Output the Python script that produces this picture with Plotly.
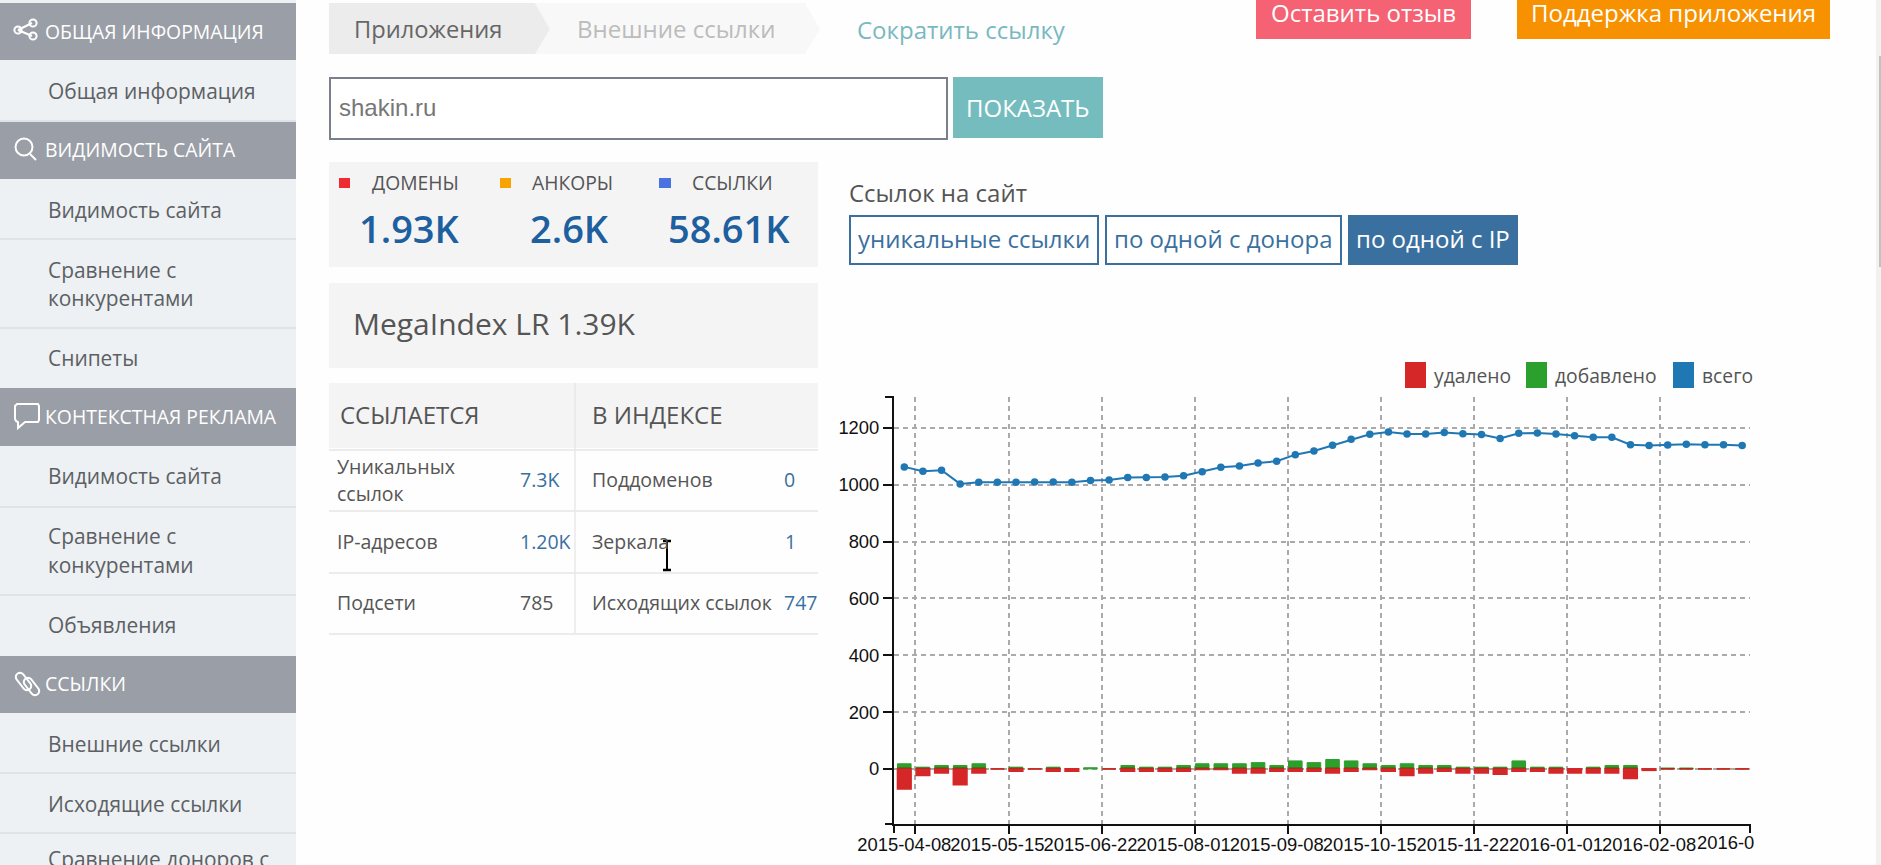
import math
import plotly.graph_objects as go

# ---------- chart data ----------
total = [1063, 1048, 1051, 1003, 1009, 1009, 1009, 1010, 1010, 1009, 1015, 1017, 1026, 1026, 1027, 1032,
         1046, 1062, 1066, 1077, 1083, 1106, 1119, 1139, 1160, 1178, 1186, 1179, 1179, 1184, 1180, 1177,
         1163, 1181, 1182, 1179, 1173, 1167, 1167, 1141, 1138, 1140, 1143, 1141, 1141, 1138]
added = [18, 6, 12, 12, 18, 0, 6, 0, 6, 0, 4, 0, 12, 6, 6, 12,
         18, 18, 18, 22, 12, 28, 22, 33, 28, 18, 12, 18, 12, 12, 6, 6,
         6, 28, 6, 6, 0, 6, 12, 12, 0, 3, 3, 0, 0, 0]
removed = [-71, -23, -14, -56, -14, 0, -8, 0, -8, -8, None, 0, -8, -8, -8, -8,
           -2, -2, -14, -14, -8, -8, -8, -14, -8, -2, -8, -23, -14, -8, -14, -14,
           -19, -8, -8, -14, -14, -14, -14, -34, -5, 0, 0, 0, 0, 0]
overlap = [6, 5, 6, 6, 6, 0, 5, 0, 5, 0, 0, 0, 6, 5, 5, 6,
           6, 6, 6, 6, 6, 6, 6, 6, 6, 6, 6, 6, 6, 6, 5, 5,
           5, 6, 5, 5, 0, 5, 6, 6, 0, 3, 3, 0, 0, 0]
x_labels = ["2015-04-08", "2015-05-15", "2015-06-22", "2015-08-01", "2015-09-08",
            "2015-10-15", "2015-11-22", "2016-01-01", "2016-02-08", "2016-0"]
y_ticks = [0, 200, 400, 600, 800, 1000, 1200]

series_names = ["удалено", "добавлено", "всего"]
series_colors = ["#d62728", "#2ca02c", "#1f77b4"]

# ---------- page texts ----------
sidebar_headers = ["ОБЩАЯ ИНФОРМАЦИЯ", "ВИДИМОСТЬ САЙТА", "КОНТЕКСТНАЯ РЕКЛАМА", "ССЫЛКИ"]

# ---------- geometry ----------
W, H = 1881, 865
L, R, T, B = 894, 1750, 397, 824
def X(p): return (p - L) / (R - L)
def Y(p): return (B - p) / (B - T)

shapes, anns = [], []
SANS = "Open Sans"

def rect(x0, y0, x1, y1, fill=None, line=None, lw=0, layer="below"):
    shapes.append(dict(type="rect", xref="paper", yref="paper", x0=X(x0), x1=X(x1), y0=Y(y0), y1=Y(y1),
                       fillcolor=fill, line=dict(color=line, width=lw), layer=layer))

def seg(x0, y0, x1, y1, color, lw=1, layer="below"):
    shapes.append(dict(type="line", xref="paper", yref="paper", x0=X(x0), x1=X(x1), y0=Y(y0), y1=Y(y1),
                       line=dict(color=color, width=lw), layer=layer))

def circ(cx, cy, r, color, lw=2):
    shapes.append(dict(type="circle", xref="paper", yref="paper", x0=X(cx - r), x1=X(cx + r), y0=Y(cy - r), y1=Y(cy + r),
                       line=dict(color=color, width=lw), layer="above"))

def path(pts, fill=None, line=None, lw=0, closed=True, layer="below"):
    d = "M " + " L ".join(f"{X(a):.5f},{Y(b):.5f}" for a, b in pts) + (" Z" if closed else "")
    shapes.append(dict(type="path", xref="paper", yref="paper", path=d, fillcolor=fill,
                       line=dict(color=line, width=lw), layer=layer))

def capsule(x0, y0, x1, y1, r, color):
    a = math.atan2(y1 - y0, x1 - x0)
    pts = []
    for k in range(9):
        t = a + math.pi / 2 + k * math.pi / 8
        pts.append((x0 + r * math.cos(t), y0 + r * math.sin(t)))
    for k in range(9):
        t = a - math.pi / 2 + k * math.pi / 8
        pts.append((x1 + r * math.cos(t), y1 + r * math.sin(t)))
    path(pts, None, color, 2, True, "above")

def text(s, x, y, size, color, anchor="left", family=SANS, weight=None):
    f = dict(family=family, size=size, color=color)
    if weight:
        f["weight"] = weight
    anns.append(dict(text=s, xref="paper", yref="paper", x=X(x), y=Y(y), xanchor=anchor, yanchor="middle",
                     showarrow=False, font=f, borderpad=0, borderwidth=0))

# sidebar
SIDE = "#edf1f3"; HEAD = "#9a9ea6"; SEP = "#dfe3e5"; ITEM = "#5c6064"
rect(0, 0, 296, H, SIDE)
for (y0, y1), label, cy in zip([(3, 60), (122, 179), (388, 446), (656, 713)], sidebar_headers, [31, 149, 416, 683]):
    rect(0, y0, 296, y1, HEAD)
    text(label, 44.5, cy, 19.4, "#ffffff")
for y in (121, 239, 328, 507, 595, 773, 833):
    seg(0, y, 296, y, SEP, 2)
for s, y in [("Общая информация", 91), ("Видимость сайта", 210), ("Сравнение с", 270), ("конкурентами", 298),
             ("Снипеты", 358), ("Видимость сайта", 476), ("Сравнение с", 536), ("конкурентами", 565),
             ("Объявления", 625), ("Внешние ссылки", 744), ("Исходящие ссылки", 804)]:
    text(s, 47.5, y, 20.9, ITEM)
text("Сравнение доноров с", 47.5, 859, 20.9, ITEM)

# sidebar icons
for a, b in [((32, 23), (18, 30)), ((18, 30), (32, 36))]:
    seg(a[0], a[1], b[0], b[1], "#ffffff", 2, "above")
for c in [(33, 23), (18, 30), (33, 36)]:
    circ(c[0], c[1], 3.6, "#ffffff")
circ(24, 147, 8.5, "#ffffff")
seg(30, 154, 36, 160, "#ffffff", 2, "above")
path([(17, 404), (38, 404), (39, 406), (39, 420), (38, 422), (25, 422), (18, 428), (18, 422), (16, 421), (15, 419), (15, 406)],
     None, "#ffffff", 2, True, "above")
capsule(20, 677, 27, 686, 4.2, "#ffffff")
capsule(28, 682, 35, 691, 4.2, "#ffffff")

# breadcrumb
path([(820, 3), (805, 3), (820, 29), (805, 54), (535, 54), (550, 29), (535, 3)], "#f8f8f8")
path([(329, 3), (535, 3), (550, 29), (535, 54), (329, 54)], "#ececec")
text("Приложения", 354, 29, 23.7, "#666666")
text("Внешние ссылки", 577, 29, 24, "#bcbcbc")
text("Сократить ссылку", 857, 29.5, 24, "#7ab9bf")

# top buttons
rect(1256, -2, 1471, 39, "#f46274")
text("Оставить отзыв", 1363.5, 13, 24, "#ffffff", "center")
rect(1517, -2, 1830, 39, "#f79100")
text("Поддержка приложения", 1673.5, 13, 24, "#ffffff", "center")

# search
rect(330, 78, 947, 139, "#ffffff", "#7a7f8c", 2)
text("shakin.ru", 338.5, 108, 24, "#777777", family="Liberation Sans")
rect(953, 77, 1103, 138, "#74bcbe")
text("ПОКАЗАТЬ", 1028, 108, 24, "#ffffff", "center")

# stats panel
PANEL = "#f4f4f5"; DARK = "#555555"; NUM = "#1d5f9f"; LINK = "#3a70a0"
rect(329, 162, 818, 267, PANEL)
for (x0, x1), c, lab, lx, num, nx in [((339, 350), "#ee2a33", "ДОМЕНЫ", 372, "1.93K", 409.5),
                                      ((500, 511), "#f7a400", "АНКОРЫ", 532, "2.6K", 569.5),
                                      ((659, 671), "#4a72e0", "ССЫЛКИ", 692, "58.61K", 729)]:
    rect(x0, 178, x1, 188, c)
    text(lab, lx, 182, 19.3, DARK)
    text(num, nx, 228, 38, NUM, "center", weight=600)

rect(329, 283, 818, 368, PANEL)
text("MegaIndex LR 1.39K", 352.5, 323, 30, DARK)

# table
rect(329, 383, 818, 448, PANEL)
text("ССЫЛАЕТСЯ", 339.5, 414.5, 24, DARK)
text("В ИНДЕКСЕ", 592, 414.5, 24, DARK)
for y in (450, 511, 573, 634):
    seg(329, y, 818, y, "#ececec", 2)
seg(575, 383, 575, 634, "#e8e8e8", 1.5)
for s, x, y, c in [("Уникальных", 337, 466, DARK), ("ссылок", 337, 493.5, DARK), ("7.3K", 520, 479.5, LINK),
                   ("Поддоменов", 592, 479.5, DARK), ("0", 784, 479.5, LINK),
                   ("IP-адресов", 337, 541.5, DARK), ("1.20K", 520, 541.5, LINK),
                   ("Зеркала", 592, 541.5, DARK), ("1", 785, 541.5, LINK),
                   ("Подсети", 337, 602.5, DARK), ("785", 520, 602.5, DARK),
                   ("Исходящих ссылок", 592, 602.5, DARK), ("747", 784, 602.5, LINK)]:
    text(s, x, y, 19.5, c)

# mouse cursor
seg(667, 542, 667, 570, "#000000", 2, "above")
seg(663, 541, 671, 541, "#000000", 2.5, "above")
seg(663, 570, 671, 570, "#000000", 2.5, "above")

# right panel
text("Ссылок на сайт", 848.5, 193, 24, DARK)
rect(850, 216, 1098, 264, "#ffffff", LINK, 2)
text("уникальные ссылки", 973.5, 238.5, 24, LINK, "center")
rect(1106, 216, 1341, 264, "#ffffff", LINK, 2)
text("по одной с донора", 1223.5, 238.5, 24, LINK, "center")
rect(1348, 215, 1518, 265, LINK)
text("по одной с IP", 1433, 238.5, 24, "#ffffff", "center")

# scrollbar
rect(1876, 0, 1881, H, "#f1f1f1")
rect(1879, 56, 1881, 267, "#c1c1c1")

# legend
for (x0, x1), c, s, tx in zip([(1405, 1426), (1526, 1547), (1673, 1694)], series_colors, series_names, [1434, 1555, 1702]):
    rect(x0, 362, x1, 388, c)
    text(s, tx, 375, 19.3, DARK)

# outer axis ticks
seg(885, T, L, T, "#111111", 2, "above")
seg(885, B, L, B, "#111111", 2, "above")
seg(L, B, L, B + 9, "#111111", 2, "above")
seg(R, B, R, B + 9, "#111111", 2, "above")

# last, cut-off axis label
idx = list(range(len(total)))
anns.append(dict(text=x_labels[-1], xref="x", yref="paper", x=idx[-1], y=Y(842.5), xanchor="left", yanchor="middle",
                 xshift=-47, showarrow=False, font=dict(family="Liberation Sans", size=18.4, color="#111111")))

# ---------- figure ----------
fig = go.Figure()
fig.add_trace(go.Bar(x=idx, y=added, name=series_names[1], width=0.73, marker=dict(color=series_colors[1], line=dict(color=series_colors[1], width=1))))
fig.add_trace(go.Bar(x=idx, y=removed, name=series_names[0], width=0.73, marker=dict(color=series_colors[0], line=dict(color=series_colors[0], width=1.6))))
fig.add_trace(go.Bar(x=idx, y=overlap, name="пересечение", width=0.73, marker=dict(color="rgba(120,60,10,0.6)", line=dict(width=0))))
fig.add_trace(go.Scatter(x=idx, y=total, name=series_names[2], mode="lines+markers", xaxis="x2",
                         line=dict(color=series_colors[2], width=2), marker=dict(color=series_colors[2], size=7.5)))

xr = [-0.553, 45.42]
label_pos = [i * 5 for i in range(len(x_labels) - 1)]
tick_pos = [i * 5 + 0.6 for i in range(len(x_labels) - 1)]
fig.update_layout(
    width=W, height=H, autosize=False, margin=dict(l=L, r=W - R, t=T, b=H - B, pad=0, autoexpand=False),
    paper_bgcolor="#fefefe", plot_bgcolor="rgba(0,0,0,0)", showlegend=False, barmode="overlay",
    shapes=shapes, annotations=anns,
    xaxis=dict(range=xr, tickmode="array", tickvals=label_pos, ticktext=x_labels[:-1], ticks="", showgrid=False,
               automargin=False, zeroline=False, showline=True, linecolor="#111111", linewidth=2, ticklabelstandoff=3,
               tickangle=0, tickfont=dict(family="Liberation Sans", size=18.4, color="#111111")),
    xaxis2=dict(range=xr, overlaying="x", side="bottom", tickmode="array", tickvals=tick_pos, showticklabels=False,
                automargin=False, ticks="outside", ticklen=9, tickwidth=2, tickcolor="#111111", showgrid=True, gridcolor="#aaaaaa",
                griddash="5px,4px", gridwidth=1.5, zeroline=False, showline=False),
    yaxis=dict(range=[-194, 1309], tickmode="array", tickvals=y_ticks, ticks="outside", ticklen=9, tickwidth=2,
               automargin=False, tickcolor="#111111", showgrid=True, gridcolor="#aaaaaa", griddash="5px,4px", gridwidth=1.5,
               zeroline=False, showline=True, linecolor="#111111", linewidth=2,
               tickfont=dict(family="Liberation Sans", size=18.4, color="#111111")),
)
fig.write_html("out.html", config={"displayModeBar": False},
               post_script="document.body.style.margin='0';document.body.style.overflow='hidden';")
